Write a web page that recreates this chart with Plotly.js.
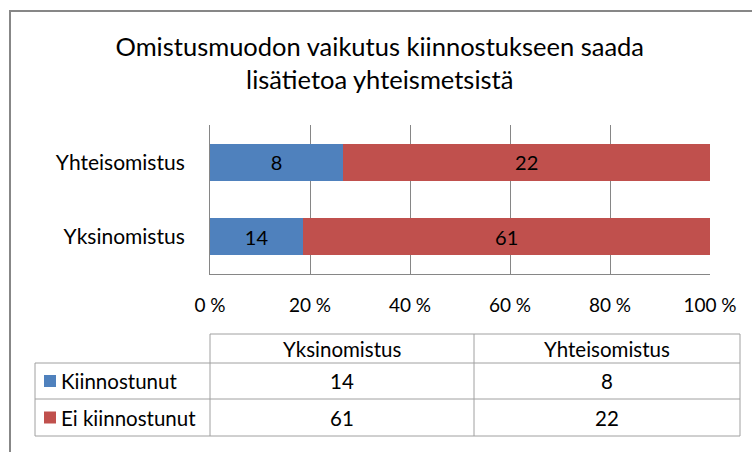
<!DOCTYPE html>
<html>
<head>
<meta charset="utf-8">
<script src="https://cdn.plot.ly/plotly-3.0.1.min.js"></script>
<style>
  html, body { margin: 0; padding: 0; background: #ffffff; }
  #chart { width: 752px; height: 452px; }
</style>
</head>
<body>
<div id="chart"></div>
<script>
// ---- Data ----
const categories = ['Yksinomistus', 'Yhteisomistus'];
const seriesNames = ['Kiinnostunut', 'Ei kiinnostunut'];
const kiinnostunut = [14, 8];
const eiKiinnostunut = [61, 22];
const seriesColors = ['#4F81BD', '#C0504D'];
const tickVals = [0, 20, 40, 60, 80, 100];
const tickLabels = ['0 %', '20 %', '40 %', '60 %', '80 %', '100 %'];
const titleText = 'Omistusmuodon vaikutus kiinnostukseen saada<br>lisätietoa yhteismetsistä';

// ---- Layout geometry (pixels) ----
const W = 752, H = 452;
const M = { l: 210, r: 42, t: 125, b: 178 };
const PW = W - M.l - M.r, PH = H - M.t - M.b;
const px = x => (x - M.l) / PW;
const py = y => (H - M.b - y) / PH;

const FONT = 'Lato, "Open Sans", "DejaVu Sans", sans-serif';
const seriesValues = [kiinnostunut, eiKiinnostunut];

const traces = seriesValues.map((vals, i) => ({
  type: 'bar',
  orientation: 'h',
  name: seriesNames[i],
  y: categories,
  x: vals,
  text: vals.map(String),
  textposition: 'inside',
  insidetextanchor: 'middle',
  textangle: 0,
  textfont: { family: FONT, size: 20, color: '#000000' },
  marker: { color: seriesColors[i], line: { width: 0 } },
  hoverinfo: 'skip'
}));

// ---- Data table (shapes + annotations) ----
const tblLeft = 35, col1 = 210, col2 = 474, tblRight = 740;
const rowY = [334, 363, 399, 436];
const lineStyle = { color: '#A0A0A0', width: 1 };
const shapes = [];
const annotations = [];
const hline = (x0, x1, y) => shapes.push({ type: 'line', xref: 'paper', yref: 'paper', x0: px(x0), x1: px(x1), y0: py(y), y1: py(y), line: lineStyle });
const vline = (x, y0, y1) => shapes.push({ type: 'line', xref: 'paper', yref: 'paper', x0: px(x), x1: px(x), y0: py(y0), y1: py(y1), line: lineStyle });

hline(col1, tblRight, rowY[0]);
hline(tblLeft, tblRight, rowY[1]);
hline(tblLeft, tblRight, rowY[2]);
hline(tblLeft, tblRight, rowY[3]);
vline(tblLeft, rowY[1], rowY[3]);
vline(col1, rowY[0], rowY[3]);
vline(col2, rowY[0], rowY[3]);
vline(tblRight, rowY[0], rowY[3]);

const TFS = 20.5;
const colCenters = [(col1 + col2) / 2, (col2 + tblRight) / 2];
categories.forEach((c, j) => {
  annotations.push({ xref: 'paper', yref: 'paper', x: px(colCenters[j]), y: py((rowY[0] + rowY[1]) / 2),
    text: c, showarrow: false, xanchor: 'center', yanchor: 'middle',
    font: { family: FONT, size: TFS, color: '#000000' } });
});
seriesNames.forEach((s, i) => {
  const yc = (rowY[i + 1] + rowY[i + 2]) / 2;
  shapes.push({ type: 'rect', xref: 'paper', yref: 'paper', x0: px(44), x1: px(56), y0: py(yc - 6), y1: py(yc + 6),
    fillcolor: seriesColors[i], line: { width: 0 } });
  annotations.push({ xref: 'paper', yref: 'paper', x: px(59), y: py(yc),
    text: s, showarrow: false, xanchor: 'left', yanchor: 'middle',
    font: { family: FONT, size: TFS, color: '#000000' } });
  seriesValues[i].forEach((v, j) => {
    annotations.push({ xref: 'paper', yref: 'paper', x: px(colCenters[j]), y: py(yc),
      text: String(v), showarrow: false, xanchor: 'center', yanchor: 'middle',
      font: { family: FONT, size: TFS, color: '#000000' } });
  });
});

// chart frame
shapes.push({ type: 'rect', xref: 'paper', yref: 'paper', x0: px(10), x1: px(900), y0: py(11), y1: py(700),
  line: { color: '#878787', width: 2 }, fillcolor: 'rgba(0,0,0,0)', layer: 'below' });

const layout = {
  width: W, height: H,
  margin: M,
  paper_bgcolor: '#ffffff',
  plot_bgcolor: '#ffffff',
  showlegend: false,
  barmode: 'stack',
  barnorm: 'percent',
  bargap: 0.5,
  font: { family: FONT, color: '#000000' },
  title: {
    text: titleText,
    font: { family: FONT, size: 25.5, color: '#000000' },
    xref: 'container', x: 0.505, xanchor: 'center',
    yref: 'container', y: 1 - 56 / H, yanchor: 'middle'
  },
  xaxis: {
    range: [0, 100],
    tickvals: tickVals,
    ticktext: tickLabels,
    showgrid: true,
    gridcolor: '#868686',
    gridwidth: 1,
    showline: true,
    linecolor: '#868686',
    linewidth: 1,
    ticks: '',
    ticklabelstandoff: 14,
    zeroline: false,
    tickfont: { family: FONT, size: 19, color: '#000000' },
    fixedrange: true
  },
  yaxis: {
    type: 'category',
    showgrid: false,
    showline: true,
    linecolor: '#868686',
    linewidth: 1,
    ticks: '',
    ticklabelstandoff: 20,
    zeroline: false,
    tickfont: { family: FONT, size: 21, color: '#000000' },
    fixedrange: true
  },
  shapes: shapes,
  annotations: annotations
};

Plotly.newPlot('chart', traces, layout, { displayModeBar: false, staticPlot: true });
</script>
</body>
</html>
